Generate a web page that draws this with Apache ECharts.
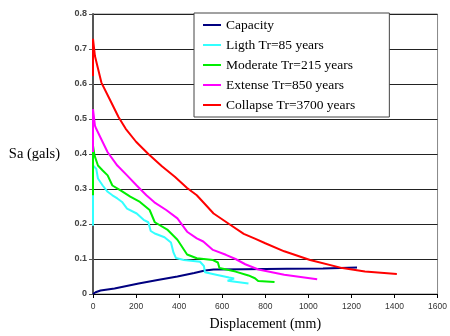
<!DOCTYPE html>
<html>
<head>
<meta charset="utf-8">
<script src="https://cdn.jsdelivr.net/npm/echarts@6/dist/echarts.min.js"></script>
<style>
  html, body { margin: 0; padding: 0; background: #fff; }
  #chart { width: 450px; height: 336px; }
</style>
</head>
<body>
<div id="chart"></div>
<script>
// displacement (mm), Sa (g) pairs
const capacity = [[0, 0], [12, 0.005], [35, 0.01], [100, 0.016], [212, 0.03], [300, 0.04], [392, 0.05], [470, 0.06], [520, 0.067], [560, 0.07], [700, 0.071], [900, 0.072], [1068, 0.073], [1226, 0.076]];
const ligth = [[0, 0.195], [0, 0.367], [15, 0.358], [23, 0.33], [45, 0.31], [68, 0.292], [90, 0.282], [113, 0.273], [135, 0.263], [158, 0.244], [203, 0.23], [235, 0.212], [257, 0.205], [268, 0.18], [290, 0.172], [332, 0.162], [362, 0.147], [374, 0.118], [385, 0.103], [422, 0.097], [497, 0.092], [515, 0.08], [520, 0.062], [572, 0.055], [632, 0.047], [655, 0.044], [625, 0.038], [620, 0.033], [722, 0.03]];
const moderate = [[0, 0.282], [0, 0.424], [7, 0.396], [23, 0.367], [45, 0.353], [68, 0.339], [90, 0.31], [128, 0.296], [173, 0.278], [218, 0.263], [263, 0.24], [287, 0.205], [347, 0.183], [392, 0.155], [437, 0.113], [482, 0.102], [557, 0.097], [580, 0.09], [587, 0.074], [662, 0.064], [722, 0.053], [752, 0.045], [767, 0.037], [843, 0.034]];
const extense = [[0, 0.406], [0, 0.528], [9, 0.481], [15, 0.472], [38, 0.443], [68, 0.405], [113, 0.367], [158, 0.339], [203, 0.31], [248, 0.282], [285, 0.262], [340, 0.24], [392, 0.216], [437, 0.178], [482, 0.159], [512, 0.15], [557, 0.126], [617, 0.112], [662, 0.1], [707, 0.085], [768, 0.07], [888, 0.055], [1041, 0.042]];
const collapse = [[0, 0.623], [0, 0.729], [9, 0.68], [39, 0.604], [77, 0.557], [119, 0.505], [152, 0.472], [200, 0.435], [257, 0.4], [320, 0.365], [380, 0.335], [437, 0.303], [482, 0.282], [512, 0.262], [560, 0.23], [632, 0.2], [700, 0.172], [752, 0.158], [800, 0.145], [888, 0.122], [1008, 0.097], [1158, 0.074], [1263, 0.064], [1411, 0.057]];

const seriesNames = ['Capacity', 'Ligth Tr=85 years', 'Moderate Tr=215 years', 'Extense Tr=850 years', 'Collapse Tr=3700 years'];
const seriesData = [capacity, ligth, moderate, extense, collapse];
const seriesColors = ['#000080', '#33ffff', '#00ee00', '#ff00ff', '#ff0000'];

const chart = echarts.init(document.getElementById('chart'), null, {renderer: 'canvas'});

const option = {
  animation: false,
  grid: {
    left: 93,
    right: 2,
    top: 14,
    bottom: 40,
    show: true,
    borderColor: '#888',
    borderWidth: 1,
  },
  legend: {
    orient: 'vertical',
    left: 194,
    top: 13,
    padding: [5, 34, 5, 9],
    itemGap: 6,
    itemWidth: 18,
    itemHeight: 2,
    icon: 'rect',
    backgroundColor: '#fff',
    borderColor: '#444',
    borderWidth: 1,
    textStyle: {
      fontFamily: 'Liberation Serif',
      fontSize: 13.5,
      color: '#000',
      lineHeight: 14,
    },
    data: seriesNames,
  },
  xAxis: {
    type: 'value',
    min: 0,
    max: 1600,
    interval: 200,
    name: 'Displacement (mm)',
    nameLocation: 'middle',
    nameGap: 23,
    nameTextStyle: {fontFamily: 'Liberation Serif', fontSize: 14, color: '#000'},
    axisLine: {lineStyle: {color: '#000', width: 1}},
    axisTick: {show: true, length: 4, lineStyle: {color: '#000'}},
    axisLabel: {
      fontFamily: 'Liberation Sans', fontSize: 8.5, color: '#333', margin: 8,
      formatter: v => String(v),
    },
    splitLine: {show: false},
  },
  yAxis: {
    type: 'value',
    min: 0,
    max: 0.8,
    interval: 0.1,
    name: 'Sa (gals)',
    nameLocation: 'middle',
    nameRotate: 0,
    nameGap: 33,
    nameTextStyle: {fontFamily: 'Liberation Serif', fontSize: 14.5, color: '#000'},
    axisLine: {show: true, lineStyle: {color: '#555', width: 2}},
    axisTick: {show: true, length: 4, lineStyle: {color: '#555'}},
    axisLabel: {fontFamily: 'Liberation Sans', fontSize: 9, fontWeight: 'bold', color: '#444', margin: 6},
    splitLine: {show: true, lineStyle: {color: '#222', width: 1}},
  },
  series: seriesData.map((d, i) => ({
    name: seriesNames[i],
    type: 'line',
    data: d,
    showSymbol: false,
    symbol: 'none',
    smooth: false,
    lineStyle: {color: seriesColors[i], width: 2},
    itemStyle: {color: seriesColors[i]},
  })),
};

chart.setOption(option);
</script>
</body>
</html>
